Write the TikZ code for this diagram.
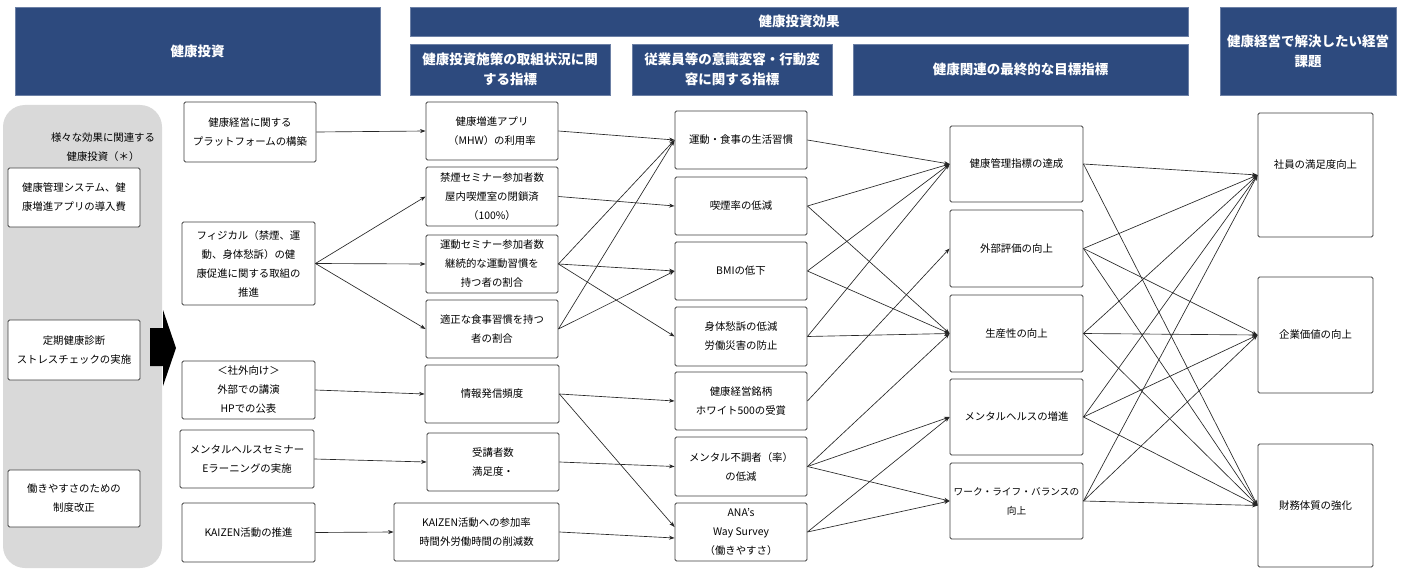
\documentclass[tikz,border=0pt]{standalone}
\usepackage{fontspec}
\setmainfont{Noto Sans CJK JP}
\usetikzlibrary{arrows.meta}
\definecolor{hdr}{HTML}{2D4A7E}
\definecolor{panelgrey}{HTML}{D9D9D9}
\begin{document}
\begin{tikzpicture}[x=1pt,y=-1pt,
  hdrbox/.style={fill=hdr, draw=hdr!70!white, line width=0.8pt, text=white,
    font=\bfseries\fontsize{13.5}{20}\selectfont, align=center, inner sep=1pt},
  box/.style={draw=black!75, line width=0.9pt, rounded corners=1.5pt, fill=white,
    align=center, inner sep=1pt, font=\fontsize{10.4}{19}\selectfont},
  plain/.style={align=center, inner sep=0pt, font=\fontsize{10.4}{19}\selectfont},
  conn/.style={draw=black!85, line width=0.65pt, -{Stealth[length=5.5pt,width=4pt]}}]
\useasboundingbox (0,0) rectangle (1412,580);
\fill[white] (0,0) rectangle (1412,580);

% headers
\node[hdrbox, minimum width=365pt, minimum height=88pt] (h1) at (197.5,51) {健康投資};
\node[hdrbox, minimum width=778pt, minimum height=29pt] (h2) at (799,21.5) {健康投資効果};
\node[hdrbox, minimum width=200pt, minimum height=51pt] (h3) at (510,69.5) {健康投資施策の取組状況に関\\する指標};
\node[hdrbox, minimum width=200pt, minimum height=51pt] (h4) at (732,69.5) {従業員等の意識変容・行動変\\容に関する指標};
\node[hdrbox, minimum width=335pt, minimum height=51pt] (h5) at (1020.5,69.5) {健康関連の最終的な目標指標};
\node[hdrbox, minimum width=176pt, minimum height=88pt] (h6) at (1308,51) {健康経営で解決したい経営\\課題};

% grey panel
\fill[panelgrey, rounded corners=22pt] (3,105) rectangle (162,568);
\node[plain] (ptitle) at (103,147.5) {様々な効果に関連する\\健康投資（＊）};
\node[box, minimum width=132pt, minimum height=59pt] (p1) at (74,197.5) {健康管理システム、健\\康増進アプリの導入費};
\node[box, minimum width=132pt, minimum height=60pt] (p2) at (74,350) {定期健康診断\\ストレスチェックの実施};
\node[box, minimum width=132pt, minimum height=57pt] (p3) at (74,498.5) {働きやすさのための\\制度改正};

% block arrow
\fill[black] (150,328) -- (163,328) -- (163,310) -- (176,348) -- (163,386) -- (163,366) -- (150,366) -- cycle;

% column 2
\node[box, minimum width=132pt, minimum height=60pt] (a1) at (250,132) {健康経営に関する\\プラットフォームの構築};
\node[box, minimum width=133pt, minimum height=83pt] (a2) at (248.5,263.5) {フィジカル（禁煙、運\\動、身体愁訴）の健\\康促進に関する取組の\\推進};
\node[box, minimum width=133pt, minimum height=58pt] (a3) at (248.5,390) {＜社外向け＞\\外部での講演\\HPでの公表};
\node[box, minimum width=134pt, minimum height=58pt] (a4) at (247,459) {メンタルヘルスセミナー\\Eラーニングの実施};
\node[box, minimum width=133pt, minimum height=59pt] (a5) at (248.5,532.5) {KAIZEN活動の推進};

% column 3
\node[box, minimum width=132pt, minimum height=58pt] (b1) at (492,131) {健康増進アプリ\\（MHW）の利用率};
\node[box, minimum width=132pt, minimum height=59pt] (b2) at (492,196.5) {禁煙セミナー参加者数\\屋内喫煙室の閉鎖済\\（100\%）};
\node[box, minimum width=132pt, minimum height=58pt] (b3) at (492,264) {運動セミナー参加者数\\継続的な運動習慣を\\持つ者の割合};
\node[box, minimum width=132pt, minimum height=58pt] (b4) at (492,329) {適正な食事習慣を持つ\\者の割合};
\node[box, minimum width=134pt, minimum height=58pt] (b5) at (492,394) {情報発信頻度};
\node[box, minimum width=132pt, minimum height=58pt] (b6) at (493,462) {受講者数\\満足度・};
\node[box, minimum width=165pt, minimum height=58pt] (b7) at (476.5,532) {KAIZEN活動への参加率\\時間外労働時間の削減数};

% column 4
\node[box, minimum width=132pt, minimum height=58pt] (c1) at (741,140) {運動・食事の生活習慣};
\node[box, minimum width=132pt, minimum height=58pt] (c2) at (741,206) {喫煙率の低減};
\node[box, minimum width=132pt, minimum height=58pt] (c3) at (741,271) {BMIの低下};
\node[box, minimum width=132pt, minimum height=59pt] (c4) at (741,336.5) {身体愁訴の低減\\労働災害の防止};
\node[box, minimum width=132pt, minimum height=58pt] (c5) at (741,401) {健康経営銘柄\\ホワイト500の受賞};
\node[box, minimum width=132pt, minimum height=59pt] (c6) at (741,466.5) {メンタル不調者（率）\\の低減};
\node[box, minimum width=132pt, minimum height=58pt] (c7) at (741,532) {ANA's\\Way Survey\\（働きやすさ）};

% column 5
\node[box, minimum width=133pt, minimum height=76pt] (d1) at (1016.5,164) {健康管理指標の達成};
\node[box, minimum width=133pt, minimum height=77pt] (d2) at (1016.5,248.5) {外部評価の向上};
\node[box, minimum width=133pt, minimum height=77pt] (d3) at (1016.5,333.5) {生産性の向上};
\node[box, minimum width=133pt, minimum height=76pt] (d4) at (1016.5,417) {メンタルヘルスの増進};
\node[box, minimum width=133pt, minimum height=76pt, font=\fontsize{9.7}{19}\selectfont] (d5) at (1016.5,501) {ワーク・ライフ・バランスの\\向上};

% column 6
\node[box, minimum width=115pt, minimum height=124pt] (e1) at (1315.5,175) {};
\node[plain] (e1t) at (1315.5,165) {社員の満足度向上};
\node[box, minimum width=115pt, minimum height=116pt] (e2) at (1315.5,335) {企業価値の向上};
\node[box, minimum width=115pt, minimum height=123pt] (e3) at (1315.5,505.5) {財務体質の強化};

% connectors col2 -> col3
\draw[conn] (a1.east) -- (b1.west);
\draw[conn] (a2.east) -- (b2.west);
\draw[conn] (a2.east) -- (b3.west);
\draw[conn] (a2.east) -- (b4.west);
\draw[conn] (a3.east) -- (b5.west);
\draw[conn] (a4.east) -- (b6.west);
\draw[conn] (a5.east) -- (b7.west);

% col3 -> col4
\draw[conn] (b1.east) -- (c1.west);
\draw[conn] (b2.east) -- (c2.west);
\draw[conn] (b3.east) -- (c1.west);
\draw[conn] (b3.east) -- (c3.west);
\draw[conn] (b3.east) -- (c4.west);
\draw[conn] (b4.east) -- (c1.west);
\draw[conn] (b4.east) -- (c3.west);
\draw[conn] (b5.east) -- (c5.west);
\draw[conn] (b5.east) -- ([yshift=5pt]c7.west);
\draw[conn] (b6.east) -- (c6.west);
\draw[conn] (b7.east) -- ([yshift=-6pt]c7.west);

% col4 -> col5
\draw[conn] (c1.east) -- (d1.west);
\draw[conn] (c2.east) -- (d1.west);
\draw[conn] (c2.east) -- (d3.west);
\draw[conn] (c3.east) -- (d1.west);
\draw[conn] (c3.east) -- (d3.west);
\draw[conn] (c4.east) -- (d1.west);
\draw[conn] (c4.east) -- (d3.west);
\draw[conn] (c5.east) -- (d2.west);
\draw[conn] (c6.east) -- (d3.west);
\draw[conn] (c6.east) -- (d4.west);
\draw[conn] (c6.east) -- (d5.west);
\draw[conn] (c7.east) -- (d4.west);
\draw[conn] (c7.east) -- (d5.west);

% col5 -> col6
\draw[conn] (d1.east) -- (e1.west);
\draw[conn] (d1.east) -- (e3.west);
\draw[conn] (d2.east) -- (e1.west);
\draw[conn] (d2.east) -- (e2.west);
\draw[conn] (d2.east) -- (e3.west);
\draw[conn] (d3.east) -- (e1.west);
\draw[conn] (d3.east) -- (e2.west);
\draw[conn] (d3.east) -- (e3.west);
\draw[conn] (d4.east) -- (e1.west);
\draw[conn] (d4.east) -- (e2.west);
\draw[conn] (d4.east) -- (e3.west);
\draw[conn] (d5.east) -- (e1.west);
\draw[conn] (d5.east) -- (e2.west);
\draw[conn] (d5.east) -- (e3.west);
\end{tikzpicture}
\end{document}
